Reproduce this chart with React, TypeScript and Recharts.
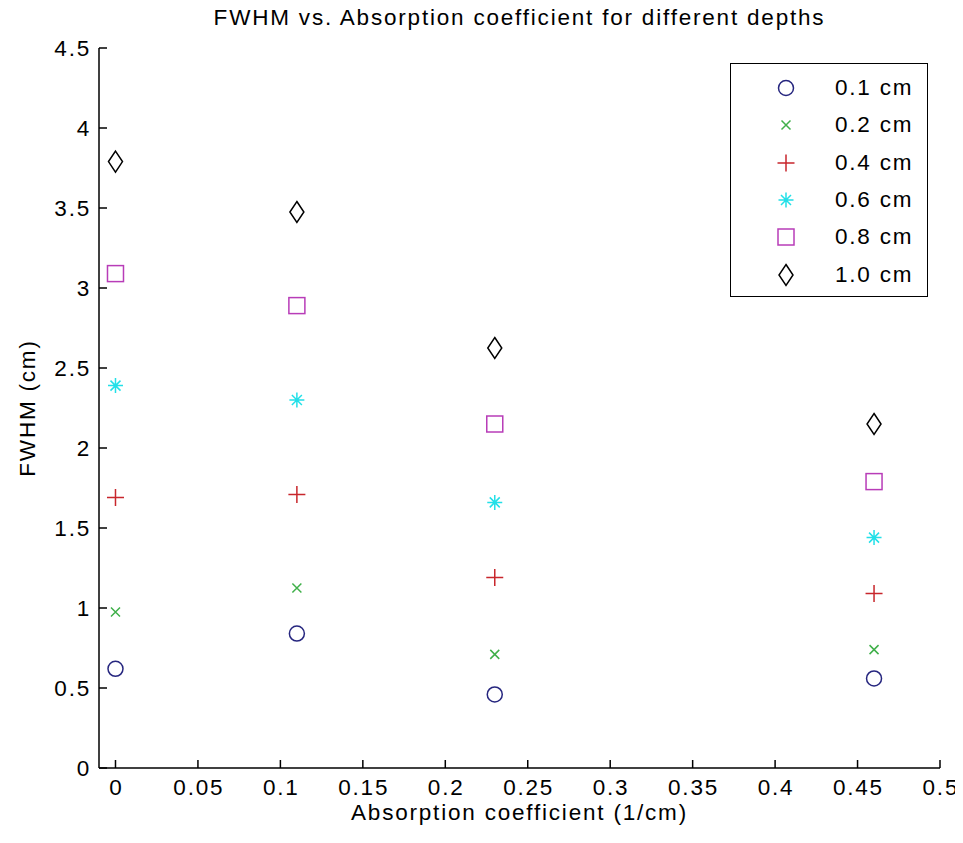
import React from 'react';
import { ScatterChart, Scatter, XAxis, YAxis, Legend } from 'recharts';

const absorption = [0, 0.11, 0.23, 0.46];
const fwhm01 = [0.62, 0.84, 0.46, 0.56];
const fwhm02 = [0.975, 1.125, 0.71, 0.74];
const fwhm04 = [1.69, 1.71, 1.19, 1.09];
const fwhm06 = [2.39, 2.3, 1.66, 1.44];
const fwhm08 = [3.09, 2.89, 2.15, 1.79];
const fwhm10 = [3.79, 3.475, 2.625, 2.15];

const seriesNames = ['0.1 cm', '0.2 cm', '0.4 cm', '0.6 cm', '0.8 cm', '1.0 cm'];
const seriesValues = [fwhm01, fwhm02, fwhm04, fwhm06, fwhm08, fwhm10];
const seriesKinds = ['circle', 'x', 'plus', 'star', 'square', 'diamond'];
const seriesColors = ['#26267f', '#40b04a', '#c8262c', '#22e0e8', '#b83cb8', '#000000'];

const xTicks = [0, 0.05, 0.1, 0.15, 0.2, 0.25, 0.3, 0.35, 0.4, 0.45, 0.5];
const yTicks = [0, 0.5, 1, 1.5, 2, 2.5, 3, 3.5, 4, 4.5];

const titleText = 'FWHM vs. Absorption coefficient for different depths';
const xLabelText = 'Absorption coefficient (1/cm)';
const yLabelText = 'FWHM (cm)';

const FONT = '"Liberation Sans", Arial, sans-serif';
const FS = 22.5;
const LS = 1.8;

function Marker({ kind, cx, cy, color }: { kind: string; cx: number; cy: number; color: string }) {
  const sw = 1.5;
  if (kind === 'circle') {
    return <circle cx={cx} cy={cy} r={7.5} fill="none" stroke={color} strokeWidth={sw} />;
  }
  if (kind === 'x') {
    const s = 4.5;
    return (
      <path
        d={`M${cx - s},${cy - s}L${cx + s},${cy + s}M${cx - s},${cy + s}L${cx + s},${cy - s}`}
        stroke={color}
        strokeWidth={sw}
        fill="none"
      />
    );
  }
  if (kind === 'plus') {
    const s = 8.5;
    return (
      <path
        d={`M${cx - s},${cy}L${cx + s},${cy}M${cx},${cy - s}L${cx},${cy + s}`}
        stroke={color}
        strokeWidth={sw}
        fill="none"
      />
    );
  }
  if (kind === 'star') {
    const s = 7.5;
    const d = 5;
    return (
      <path
        d={`M${cx - s},${cy}L${cx + s},${cy}M${cx},${cy - s}L${cx},${cy + s}M${cx - d},${cy - d}L${cx + d},${cy + d}M${cx - d},${cy + d}L${cx + d},${cy - d}`}
        stroke={color}
        strokeWidth={sw}
        fill="none"
      />
    );
  }
  if (kind === 'square') {
    return <rect x={cx - 8} y={cy - 8} width={16} height={16} fill="none" stroke={color} strokeWidth={sw} />;
  }
  const w = 7;
  const h = 10.5;
  return (
    <path
      d={`M${cx},${cy - h}L${cx + w},${cy}L${cx},${cy + h}L${cx - w},${cy}Z`}
      fill="none"
      stroke={color}
      strokeWidth={sw}
    />
  );
}

const makeShape = (kind: string, color: string) => (props: any) => (
  <Marker kind={kind} cx={props.cx} cy={props.cy} color={color} />
);

const textStyle = { fontFamily: FONT, fontSize: FS, letterSpacing: LS, fill: '#000' };

const BottomTick = (props: any) => {
  const { x, y, payload } = props;
  return (
    <g>
      <line x1={x} y1={y} x2={x} y2={y - 8} stroke="#000" strokeWidth={1.5} />
      <text x={x + LS / 2} y={y + 27} textAnchor="middle" style={textStyle}>
        {String(payload.value)}
      </text>
    </g>
  );
};

const TopTick = (props: any) => {
  const { x, y } = props;
  return <line x1={x} y1={y} x2={x} y2={y + 8} stroke="#000" strokeWidth={1.5} />;
};

const LeftTick = (props: any) => {
  const { x, y, payload } = props;
  return (
    <g>
      <line x1={x} y1={y} x2={x + 8} y2={y} stroke="#000" strokeWidth={1.5} />
      <text x={x - 8} y={y + 8} textAnchor="end" style={textStyle}>
        {String(payload.value)}
      </text>
    </g>
  );
};

const RightTick = (props: any) => {
  const { x, y } = props;
  return <line x1={x} y1={y} x2={x - 8} y2={y} stroke="#000" strokeWidth={1.5} />;
};

const XLabel = (props: any) => {
  const vb = props.viewBox;
  return (
    <text x={vb.x + vb.width / 2} y={vb.y + 52} textAnchor="middle" style={textStyle}>
      {xLabelText}
    </text>
  );
};

const YLabel = (props: any) => {
  const vb = props.viewBox;
  const cy = vb.y + vb.height / 2;
  const cx = 27;
  return (
    <text x={cx} y={cy} textAnchor="middle" transform={`rotate(-90 ${cx} ${cy})`} style={textStyle}>
      {yLabelText}
    </text>
  );
};

const LegendBox = () => (
  <div
    style={{
      width: 198,
      height: 234,
      border: '1.5px solid #000',
      background: '#fff',
      boxSizing: 'border-box',
      position: 'relative',
    }}
  >
    {seriesNames.map((name, i) => (
      <div
        key={name}
        style={{
          position: 'absolute',
          left: 0,
          top: 24 + i * 37.3 - 18,
          height: 36,
          width: '100%',
          display: 'flex',
          alignItems: 'center',
        }}
      >
        <svg width={104} height={36} style={{ flex: 'none' }}>
          <Marker kind={seriesKinds[i]} cx={55} cy={18} color={seriesColors[i]} />
        </svg>
        <span style={{ fontFamily: FONT, fontSize: FS, letterSpacing: LS, color: '#000', lineHeight: '36px' }}>
          {name}
        </span>
      </div>
    ))}
  </div>
);

export default function App() {
  const seriesData = seriesValues.map((vals) => absorption.map((x, i) => ({ x, y: vals[i] })));
  return (
    <div style={{ position: 'relative', width: 955, height: 827 }}>
      <div
        style={{
          position: 'absolute',
          left: 91,
          width: 841,
          top: -3,
          textAlign: 'center',
          fontFamily: FONT,
          fontSize: FS,
          letterSpacing: LS,
          lineHeight: '26px',
          color: '#000',
          whiteSpace: 'nowrap',
        }}
      >
        {titleText}
      </div>
      <ScatterChart width={955} height={827} margin={{ top: 40, right: 23, bottom: 0, left: 0 }}>
        <XAxis
          xAxisId="bottom"
          dataKey="x"
          type="number"
          domain={[-0.01, 0.5]}
          allowDataOverflow
          ticks={xTicks}
          interval={0}
          height={67}
          tickSize={0}
          tickMargin={0}
          tickLine={false}
          axisLine={{ stroke: '#000', strokeWidth: 1.5 }}
          tick={<BottomTick />}
          label={<XLabel />}
        />
        <XAxis
          xAxisId="top"
          orientation="top"
          type="number"
          domain={[-0.01, 0.5]}
          allowDataOverflow
          ticks={xTicks}
          interval={0}
          height={0}
          tickSize={0}
          tickMargin={0}
          tickLine={false}
          axisLine={{ stroke: '#000', strokeWidth: 1.5 }}
          tick={<TopTick />}
        />
        <YAxis
          yAxisId="left"
          dataKey="y"
          type="number"
          domain={[0, 4.5]}
          allowDataOverflow
          ticks={yTicks}
          interval={0}
          width={91}
          tickSize={0}
          tickMargin={0}
          tickLine={false}
          axisLine={{ stroke: '#000', strokeWidth: 1.5 }}
          tick={<LeftTick />}
          label={<YLabel />}
        />
        <YAxis
          yAxisId="right"
          orientation="right"
          type="number"
          domain={[0, 4.5]}
          allowDataOverflow
          ticks={yTicks}
          interval={0}
          width={0}
          tickSize={0}
          tickMargin={0}
          tickLine={false}
          axisLine={{ stroke: '#000', strokeWidth: 1.5 }}
          tick={<RightTick />}
        />
        {seriesData.map((data, i) => (
          <Scatter
            key={seriesNames[i]}
            name={seriesNames[i]}
            data={data}
            xAxisId="bottom"
            yAxisId="left"
            fill={seriesColors[i]}
            shape={makeShape(seriesKinds[i], seriesColors[i])}
            isAnimationActive={false}
          />
        ))}
        <Legend
          layout="vertical"
          align="center"
          verticalAlign="middle"
          width={198}
          height={234}
          wrapperStyle={{ top: 55, left: 722, width: 198, height: 234 }}
          content={<LegendBox />}
        />
      </ScatterChart>
    </div>
  );
}
